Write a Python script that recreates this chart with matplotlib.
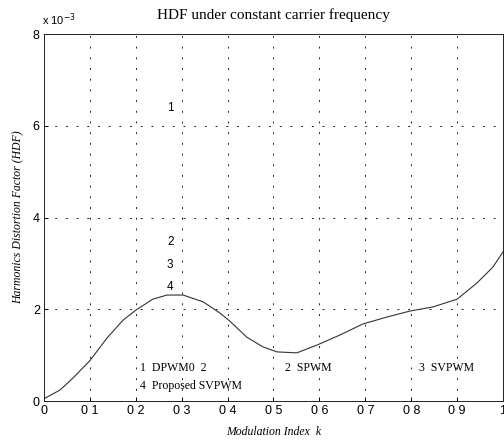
import matplotlib
matplotlib.use('Agg')
import matplotlib.pyplot as plt

# values (HDF in units of 1e-3)
k = [0, 0.035, 0.063, 0.1, 0.137, 0.172, 0.2, 0.237, 0.268, 0.303, 0.347,
     0.383, 0.405, 0.442, 0.477, 0.508, 0.551, 0.595, 0.645, 0.695, 0.747,
     0.797, 0.847, 0.9, 0.943, 0.978, 1.0]
hdf = [0.05, 0.24, 0.5, 0.88, 1.37, 1.76, 1.98, 2.22, 2.31, 2.31, 2.16,
       1.92, 1.74, 1.39, 1.18, 1.07, 1.05, 1.22, 1.44, 1.68, 1.83,
       1.96, 2.05, 2.22, 2.57, 2.92, 3.25]

xtick_vals = [0, 0.1, 0.2, 0.3, 0.4, 0.5, 0.6, 0.7, 0.8, 0.9, 1.0]
xtick_labels = ['0', '0 1', '0 2', '0 3', '0 4', '0 5', '0 6', '0 7', '0 8', '0 9', '1']
ytick_vals = [0, 2, 4, 6, 8]

# curve number labels and legend-like notes
num_labels = ['1', '2', '3', '4']
num_x = [0.275, 0.275, 0.275, 0.275]
num_y = [6.38, 3.46, 2.96, 2.48]
notes = ['1  DPWM0  2', '4  Proposed SVPWM', '2  SPWM', '3  SVPWM']
notes_x = [0.21, 0.21, 0.525, 0.817]
notes_y = [0.72, 0.32, 0.72, 0.72]

fig = plt.figure(figsize=(5.04, 4.43), dpi=100)
ax = fig.add_axes([0.0873, 0.0948, 0.9107, 0.8284])

ax.plot(k, hdf, color='#333333', lw=0.8)

ax.set_xlim(0, 1)
ax.set_ylim(0, 8)
ax.set_xticks(xtick_vals)
ax.set_xticklabels(xtick_labels, family='Liberation Sans', fontsize=9)
ax.set_yticks(ytick_vals)
ax.set_yticklabels([str(v) for v in ytick_vals], family='Liberation Sans', fontsize=9)
ax.tick_params(direction='in', length=3, width=0.7, pad=3)

ax.grid(True, color='#222222', lw=0.7, linestyle=(0, (2, 9)))
for s in ax.spines.values():
    s.set_linewidth(0.7)
    s.set_color('#222222')

for t, x, y in zip(num_labels, num_x, num_y):
    ax.text(x, y, t, fontsize=8.5, family='Liberation Sans', ha='center', va='center')
for t, x, y in zip(notes, notes_x, notes_y):
    ax.text(x, y, t, fontsize=8.5, family='Liberation Serif', ha='left', va='center')

ax.set_title('HDF under constant carrier frequency', family='Liberation Serif',
             fontsize=11, pad=11)
fig.text(0.083, 0.945, r'x 10$^{-3}$', family='Liberation Sans', fontsize=8)
ax.set_xlabel('Modulation Index  k', family='Liberation Serif', style='italic',
              fontsize=8.5, labelpad=6)
ax.set_ylabel('Harmonics Distortion Factor (HDF)', family='Liberation Serif',
              style='italic', fontsize=8.5, labelpad=6)

fig.savefig('out.png', dpi=100)
